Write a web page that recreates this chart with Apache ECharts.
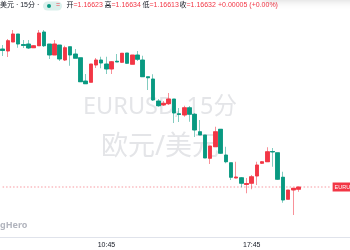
<!DOCTYPE html>
<html><head><meta charset="utf-8">
<script src="https://cdn.jsdelivr.net/npm/echarts@6/dist/echarts.min.js"></script>
<style>html,body{margin:0;padding:0;background:#fff}#c{width:350px;height:250px}</style>
</head><body><div id="c"></div>
<script>
var opens  = [1.17184,1.17176,1.17212,1.17244,1.17202,1.17204,1.17189,1.17197,1.17252,1.17204,
              1.17160,1.17200,1.17140,1.17193,1.17164,1.17149,1.17056,1.17051,1.17120,1.17140,
              1.17124,1.17104,1.17135,1.17131,1.17168,1.17123,1.17160,1.17140,1.17073,1.17064,
              1.16976,1.16960,1.16965,1.16984,1.16925,1.16920,1.16949,1.16923,1.16853,1.16840,
              1.16747,1.16793,1.16863,1.16760,1.16729,1.16668,1.16669,1.16642,1.16647,1.16676,
              1.16727,1.16733,1.16774,1.16769,1.16671,1.16583,1.16620,1.16623];
var closes = [1.17178,1.17217,1.17244,1.17204,1.17198,1.17188,1.17197,1.17248,1.17197,1.17160,
              1.17204,1.17144,1.17189,1.17160,1.17147,1.17053,1.17045,1.17124,1.17140,1.17128,
              1.17104,1.17133,1.17132,1.17167,1.17127,1.17160,1.17143,1.17073,1.17069,1.16980,
              1.16957,1.16967,1.16984,1.16928,1.16922,1.16949,1.16923,1.16860,1.16840,1.16748,
              1.16796,1.16853,1.16767,1.16733,1.16671,1.16672,1.16647,1.16646,1.16673,1.16720,
              1.16733,1.16773,1.16772,1.16663,1.16580,1.16620,1.16627,1.16632];
var lows   = [1.17156,1.17152,1.17212,1.17189,1.17188,1.17184,1.17188,1.17196,1.17192,1.17144,
              1.17160,1.17136,1.17136,1.17117,1.17147,1.17052,1.17044,1.17051,1.17108,1.17107,
              1.17084,1.17084,1.17132,1.17128,1.17124,1.17123,1.17136,1.17073,1.17020,1.16976,
              1.16953,1.16956,1.16960,1.16888,1.16892,1.16913,1.16893,1.16832,1.16840,1.16748,
              1.16724,1.16793,1.16764,1.16727,1.16660,1.16667,1.16631,1.16607,1.16623,1.16640,
              1.16724,1.16732,1.16713,1.16660,1.16569,1.16583,1.16520,1.16613];
var highs  = [1.17200,1.17224,1.17260,1.17244,1.17220,1.17220,1.17200,1.17260,1.17260,1.17204,
              1.17220,1.17200,1.17197,1.17193,1.17184,1.17149,1.17084,1.17124,1.17148,1.17153,
              1.17153,1.17136,1.17164,1.17168,1.17168,1.17160,1.17176,1.17157,1.17073,1.17083,
              1.16984,1.16976,1.17008,1.16984,1.16948,1.16957,1.16956,1.16928,1.16900,1.16840,
              1.16796,1.16873,1.16864,1.16793,1.16729,1.16733,1.16672,1.16668,1.16680,1.16733,
              1.16736,1.16791,1.16788,1.16769,1.16693,1.16620,1.16628,1.16634];
var tickLabels = ['10:45','17:45'];
var startMinutes = 5*60+45, stepMinutes = 15, emptySlots = 6;

var UP = '#F23645', DOWN = '#089981';
var UP_WICK = 'rgba(242,54,69,0.55)', DOWN_WICK = 'rgba(8,153,129,0.5)';
var n = opens.length;
var categories = [];
for (var i = 0; i < n + emptySlots; i++) {
  var m = startMinutes + i*stepMinutes;
  var hh = Math.floor(m/60)%24, mm = m%60;
  categories.push((hh<10?'0':'')+hh+':'+(mm<10?'0':'')+mm);
}
var kdata = [], bodies = [], lastLine = [];
for (var i = 0; i < n; i++) {
  kdata.push([opens[i], closes[i], lows[i], highs[i]]);
  bodies.push([opens[i], closes[i], Math.min(opens[i],closes[i]), Math.max(opens[i],closes[i])]);
}
for (var j = 0; j < emptySlots; j++) { kdata.push('-'); bodies.push('-'); }

var lastO = opens[n-1], lastC = closes[n-1], lastL = lows[n-1], lastH = highs[n-1];
for (var k = 0; k < n + emptySlots; k++) lastLine.push(lastC);
var chg = lastC - closes[n-2];
var pct = chg / closes[n-2] * 100;
var fmt = function(v){return v.toFixed(5);};
var sign = chg >= 0 ? '+' : '';

var FF = 'Liberation Sans, Noto Sans CJK SC, sans-serif';
var WF = 'Noto Sans, Noto Sans CJK SC, sans-serif';
var dark = '#131722';
function t(x, text, color){
  return {type:'text', left:x, top:2, silent:true, style:{text:text, fill:color, font:'normal 7px '+FF}};
}

var chart = echarts.init(document.getElementById('c'), null, {renderer:'canvas'});
chart.setOption({
  animation:false,
  backgroundColor:'#ffffff',
  grid:{left:-0.6, right:17.8, top:20, bottom:12.5, containLabel:false},
  xAxis:{type:'category', data:categories, boundaryGap:true,
    axisLine:{show:true, lineStyle:{color:'#e0e3eb', width:1}},
    axisTick:{show:false},
    splitLine:{show:false},
    axisLabel:{color:dark, fontSize:7, fontFamily:FF, margin:4,
      interval:function(idx, val){ return tickLabels.indexOf(val) >= 0; }}
  },
  yAxis:{type:'value', min:1.1643, max:1.1730, show:false, splitLine:{show:false}},
  graphic:[
    {type:'rect', silent:true, z:100, shape:{x:262, y:-30, width:110, height:28, r:6},
      style:{fill:'#ffffff', shadowBlur:10, shadowColor:'rgba(0,0,0,0.18)', shadowOffsetY:2}},
    {type:'text', z:-10, silent:true,
      style:{x:160, y:107, text:'EURUSD, 15分', fill:'#e4e5e8', font:'normal 23.5px '+WF, textAlign:'center', textVerticalAlign:'middle'}},
    {type:'text', z:-10, silent:true,
      style:{x:160, y:147, text:'欧元/美元', fill:'#e4e5e8', font:'normal 27px '+WF, textAlign:'center', textVerticalAlign:'middle'}},
    {type:'text', left:0, top:221, silent:true,
      style:{text:'gHero', fill:'#b2b5be', font:'bold 9px '+WF}},
    {type:'line', silent:true, shape:{x1:332, y1:237.5, x2:350, y2:237.5}, style:{stroke:'#e0e3eb', lineWidth:1}},
    t(0, '美元 · 15分 ·', dark),
    {type:'rect', left:43, top:1.5, silent:true, shape:{width:19, height:9, r:4.5}, style:{fill:'rgba(8,153,129,0.15)'}},
    {type:'circle', left:47, top:4, silent:true, shape:{r:2}, style:{fill:DOWN}},
    t(56, '=', UP),
    t(66.5, '开', dark), t(73.5, '='+fmt(lastO), UP),
    t(104.5, '高', dark), t(111.5, '='+fmt(lastH), UP),
    t(142.5, '低', dark), t(149.5, '='+fmt(lastL), UP),
    t(179.5, '收', dark), t(186.5, '='+fmt(lastC), UP),
    t(218, sign+fmt(chg)+' ('+sign+pct.toFixed(2)+'%)', UP)
  ],
  series:[{
    type:'line', name:'last', data:lastLine, showSymbol:false, symbol:'none', silent:true,
    lineStyle:{color:'rgba(242,54,69,0.5)', type:[1.5,2], width:1},
    endLabel:{show:true, formatter:'EURUSD', distance:3, backgroundColor:UP, color:'#fff',
      fontSize:5.5, fontFamily:FF, padding:[2,2,1.5,2]},
    z:1
  },{
    type:'candlestick', name:'wick',
    data:kdata,
    barWidth:4, z:2,
    itemStyle:{color:UP, color0:DOWN, borderColor:UP_WICK, borderColor0:DOWN_WICK, borderWidth:1}
  },{
    type:'candlestick', name:'body',
    data:bodies,
    barWidth:4, z:3,
    itemStyle:{color:UP, color0:DOWN, borderColor:UP, borderColor0:DOWN, borderWidth:0.6}
  }]
});
</script></body></html>
